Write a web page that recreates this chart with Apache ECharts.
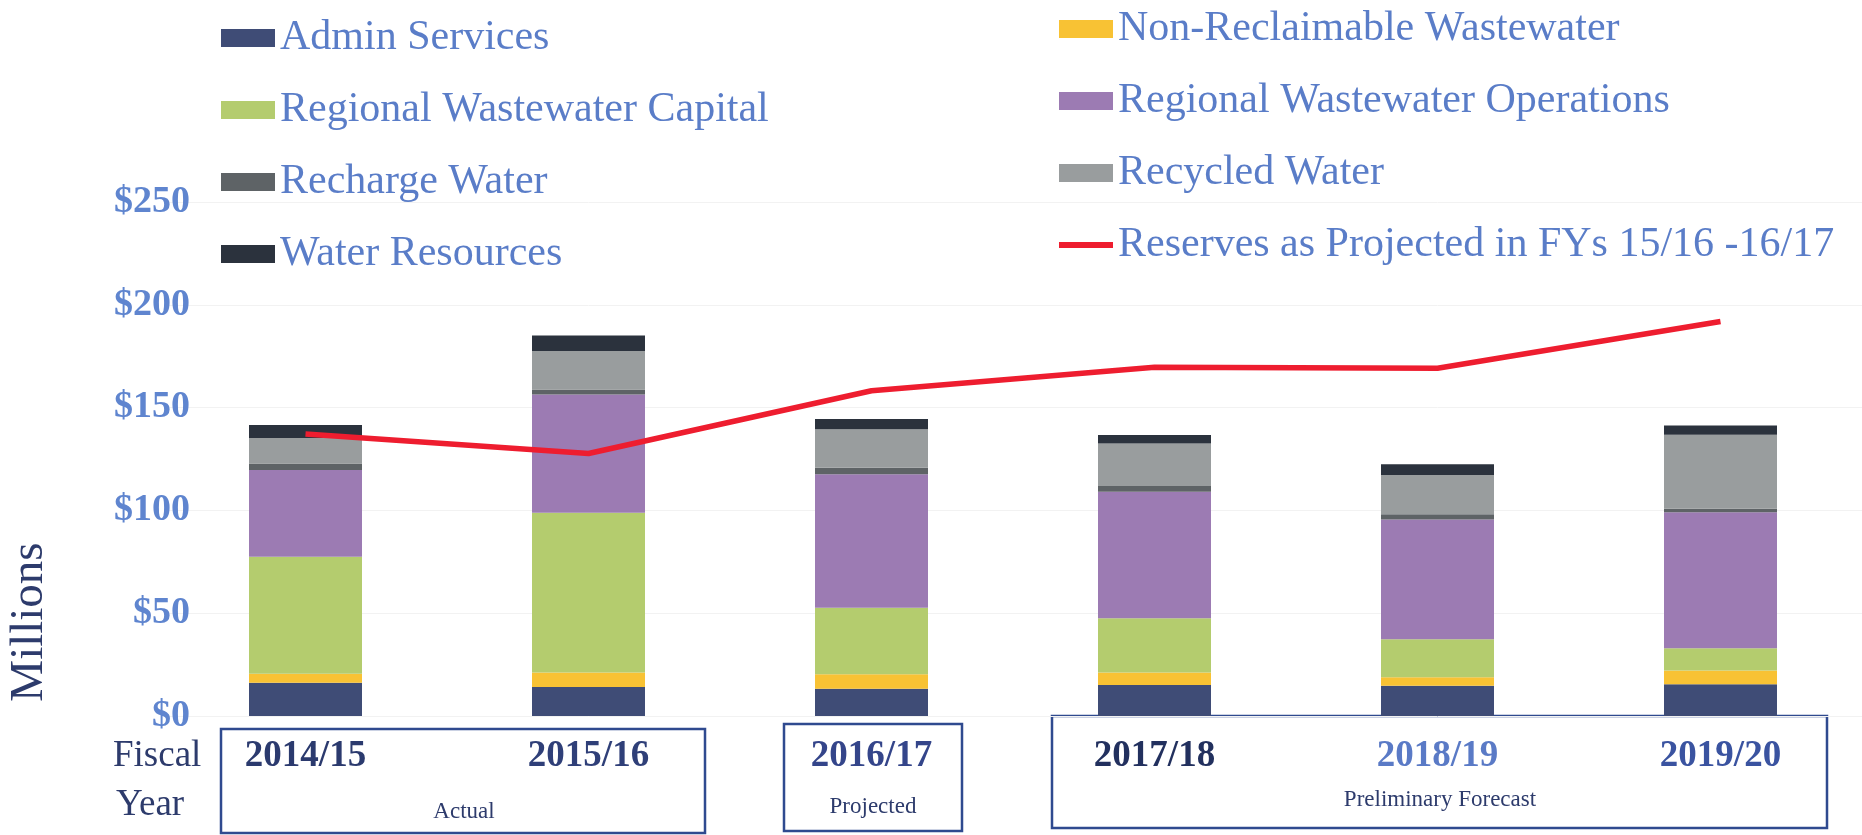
<!DOCTYPE html>
<html>
<head>
<meta charset="utf-8">
<script src="https://cdn.jsdelivr.net/npm/echarts@6/dist/echarts.min.js"></script>
<style>
  html, body { margin: 0; padding: 0; background: #ffffff; }
  #chart { width: 1862px; height: 835px; }
</style>
</head>
<body>
<div id="chart"></div>
<script>
// Fiscal years shown on the category axis
const categories = ['2014/15', '2015/16', '2016/17', '2017/18', '2018/19', '2019/20'];

// Reserve balances by fund, $ millions (stacked bottom to top)
const adminServices   = [16.2, 14.1, 13.3, 15.1, 14.7, 15.4];
const nonReclaimable  = [4.4, 7.0, 7.0, 6.0, 4.2, 6.7];
const rwCapital       = [56.8, 77.8, 32.4, 26.4, 18.4, 10.9];
const rwOperations    = [42.2, 57.5, 64.9, 61.6, 58.3, 66.1];
const rechargeWater   = [3.2, 2.4, 3.2, 2.8, 2.5, 1.7];
const recycledWater   = [12.4, 18.7, 18.7, 20.6, 19.1, 36.0];
const waterResources  = [6.3, 7.6, 4.9, 4.2, 5.2, 4.5];

// Total reserves as projected in FYs 15/16 - 16/17, $ millions
const reserves = [137.2, 127.7, 158.2, 169.6, 169.1, 191.9];

// Value axis ticks
const yMin = 0, yMax = 250, yStep = 50;

// Period groupings drawn under the axis
const periods = ['Actual', 'Projected', 'Preliminary Forecast'];

const SERIF = '"Liberation Serif", "Times New Roman", serif';
const LEGEND_BLUE = '#5a7dc8';
const NAVY = '#2d3b6c';
const RED = '#ee1d2f';

const barSeries = [
  { name: 'Admin Services', data: adminServices, color: '#3f4c76' },
  { name: 'Non-Reclaimable Wastewater', data: nonReclaimable, color: '#f8c234' },
  { name: 'Regional Wastewater Capital', data: rwCapital, color: '#b4cc6e' },
  { name: 'Regional Wastewater Operations', data: rwOperations, color: '#9c7bb3' },
  { name: 'Recharge Water', data: rechargeWater, color: '#5e6366' },
  { name: 'Recycled Water', data: recycledWater, color: '#999d9e' },
  { name: 'Water Resources', data: waterResources, color: '#2b323d' }
].map(s => ({
  name: s.name,
  type: 'bar',
  stack: 'reserves',
  barWidth: 113,
  data: s.data,
  itemStyle: { color: s.color },
  emphasis: { disabled: true }
}));

const reservesName = 'Reserves as Projected in FYs 15/16 -16/17';

const labelColors = ['#2b3a6e', '#2f3f78', '#34458a', '#22305e', '#5a7ac6', '#3a53a0'];

const legendText = { fontFamily: SERIF, fontSize: 42, color: LEGEND_BLUE, lineHeight: 44 };

const chart = echarts.init(document.getElementById('chart'), null, { renderer: 'canvas' });

chart.setOption({
  animation: false,
  backgroundColor: '#ffffff',
  grid: { left: 164, top: 202, width: 1710, height: 514 },
  legend: [
    {
      orient: 'vertical', left: 216, top: 11,
      icon: 'rect',
      itemWidth: 54, itemHeight: 18, itemGap: 28,
      selectedMode: false,
      data: ['Admin Services', 'Regional Wastewater Capital', 'Recharge Water', 'Water Resources'],
      textStyle: legendText
    },
    {
      orient: 'vertical', left: 1054, top: 2,
      icon: 'rect',
      itemWidth: 54, itemHeight: 18, itemGap: 28,
      selectedMode: false,
      data: [
        'Non-Reclaimable Wastewater',
        'Regional Wastewater Operations',
        'Recycled Water',
        { name: reservesName, icon: 'path://M0,0H54V6H0Z', itemStyle: { color: RED } }
      ],
      textStyle: legendText
    }
  ],
  xAxis: {
    type: 'category',
    data: categories,
    axisLine: { show: false },
    axisTick: { show: false },
    axisLabel: {
      margin: 20,
      fontFamily: SERIF,
      fontSize: 37,
      fontWeight: 'bold',
      lineHeight: 40,
      color: (value, index) => labelColors[index]
    }
  },
  yAxis: {
    type: 'value',
    min: yMin, max: yMax, interval: yStep,
    offset: -34,
    axisLine: { show: false },
    axisTick: { show: false },
    splitLine: { show: true, lineStyle: { color: '#f2f2f2', width: 1 } },
    axisLabel: {
      margin: 8,
      formatter: '${value}',
      fontFamily: SERIF,
      fontSize: 38,
      fontWeight: 'bold',
      color: '#5f85cf'
    }
  },
  series: barSeries.concat([{
    name: reservesName,
    type: 'line',
    data: reserves,
    symbol: 'none',
    smooth: false,
    z: 10,
    lineStyle: { color: RED, width: 5.5 },
    itemStyle: { color: RED },
    emphasis: { disabled: true }
  }]),
  graphic: [
    {
      type: 'text', x: 30, y: 622, rotation: Math.PI / 2,
      style: { text: 'Millions', fontFamily: SERIF, fontSize: 47, fill: NAVY, align: 'center', verticalAlign: 'middle' }
    },
    {
      type: 'text', x: 113, y: 756,
      style: { text: 'Fiscal', fontFamily: SERIF, fontSize: 37, fill: NAVY, align: 'left', verticalAlign: 'middle' }
    },
    {
      type: 'text', x: 116, y: 805,
      style: { text: 'Year', fontFamily: SERIF, fontSize: 37, fill: NAVY, align: 'left', verticalAlign: 'middle' }
    },
    {
      type: 'rect', shape: { x: 221, y: 729, width: 484, height: 104 },
      style: { fill: 'none', stroke: '#2f4a8f', lineWidth: 2.5 }
    },
    {
      type: 'rect', shape: { x: 784, y: 724, width: 178, height: 107 },
      style: { fill: 'none', stroke: '#2f4a8f', lineWidth: 2.5 }
    },
    {
      type: 'rect', shape: { x: 1052, y: 716, width: 775, height: 112 },
      style: { fill: 'none', stroke: '#2f4a8f', lineWidth: 2.5 }
    },
    {
      type: 'text', x: 464, y: 812,
      style: { text: periods[0], fontFamily: SERIF, fontSize: 23, fill: NAVY, align: 'center', verticalAlign: 'middle' }
    },
    {
      type: 'text', x: 873, y: 807,
      style: { text: periods[1], fontFamily: SERIF, fontSize: 23, fill: NAVY, align: 'center', verticalAlign: 'middle' }
    },
    {
      type: 'text', x: 1440, y: 800,
      style: { text: periods[2], fontFamily: SERIF, fontSize: 23, fill: NAVY, align: 'center', verticalAlign: 'middle' }
    }
  ]
});
</script>
</body>
</html>
